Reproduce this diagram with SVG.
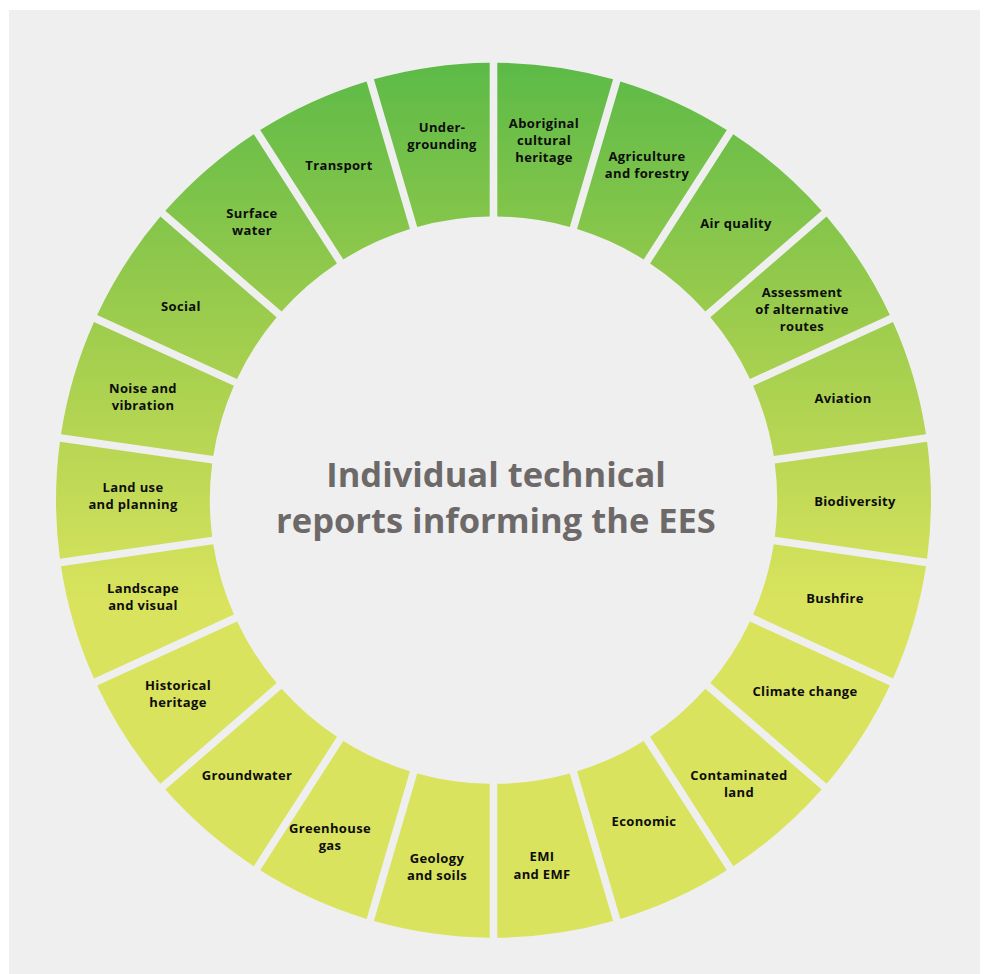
<svg xmlns="http://www.w3.org/2000/svg" width="987" height="974" viewBox="0 0 987 974">
<defs>
<linearGradient id="ring" gradientUnits="userSpaceOnUse" x1="0" y1="-438" x2="0" y2="100">
<stop offset="0" stop-color="#5cba47"/>
<stop offset="0.5" stop-color="#9fcd4d"/>
<stop offset="1" stop-color="#d9e35d"/>
</linearGradient>
<style>
.seg{fill:url(#ring)}
.lbl{font-family:"Open Sans","Liberation Sans",sans-serif;font-weight:700;font-size:13px;letter-spacing:0.35px;fill:#0d0d0d;text-anchor:middle}
.title{font-family:"Open Sans","Liberation Sans",sans-serif;font-weight:700;font-size:34.5px;fill:#6d6969;text-anchor:middle}
</style>
</defs>
<rect x="0" y="0" width="987" height="974" fill="#ffffff"/>
<rect x="9" y="10" width="971" height="964" fill="#efefef"/>
<g id="connectors"></g>
<g id="n-aboriginal"><path class="seg" transform="translate(493.5 500.2)" d="M3.8,-437.48 A437.5,437.5 0 0 1 119.6,-420.83 L76.27,-273.25 A283.7,283.7 0 0 0 3.8,-283.67 Z"/><text class="lbl"><tspan x="544" y="127.5">Aboriginal</tspan><tspan x="544" y="145">cultural</tspan><tspan x="544" y="162">heritage</tspan></text></g>
<g id="n-agriculture"><path class="seg" transform="translate(493.5 500.2)" d="M126.9,-418.69 A437.5,437.5 0 0 1 233.32,-370.08 L150.17,-240.69 A283.7,283.7 0 0 0 83.57,-271.11 Z"/><text class="lbl"><tspan x="647" y="160.5">Agriculture</tspan><tspan x="647" y="177.5">and forestry</tspan></text></g>
<g id="n-airquality"><path class="seg" transform="translate(493.5 500.2)" d="M239.72,-365.98 A437.5,437.5 0 0 1 328.14,-289.36 L211.9,-188.64 A283.7,283.7 0 0 0 156.56,-236.58 Z"/><text class="lbl"><tspan x="736" y="227.5">Air quality</tspan></text></g>
<g id="n-assessment"><path class="seg" transform="translate(493.5 500.2)" d="M333.11,-283.62 A437.5,437.5 0 0 1 396.37,-185.2 L256.46,-121.3 A283.7,283.7 0 0 0 216.87,-182.89 Z"/><text class="lbl"><tspan x="802" y="296.5">Assessment</tspan><tspan x="802" y="313.5">of alternative</tspan><tspan x="802" y="330.5">routes</tspan></text></g>
<g id="n-aviation"><path class="seg" transform="translate(493.5 500.2)" d="M399.52,-178.28 A437.5,437.5 0 0 1 432.49,-66.02 L280.24,-44.13 A283.7,283.7 0 0 0 259.61,-114.39 Z"/><text class="lbl"><tspan x="843" y="402.5">Aviation</tspan></text></g>
<g id="n-biodiversity"><path class="seg" transform="translate(493.5 500.2)" d="M433.57,-58.5 A437.5,437.5 0 0 1 433.57,58.5 L281.33,36.61 A283.7,283.7 0 0 0 281.33,-36.61 Z"/><text class="lbl"><tspan x="855" y="505.5">Biodiversity</tspan></text></g>
<g id="n-bushfire"><path class="seg" transform="translate(493.5 500.2)" d="M432.49,66.02 A437.5,437.5 0 0 1 399.52,178.28 L259.61,114.39 A283.7,283.7 0 0 0 280.24,44.13 Z"/><text class="lbl"><tspan x="835" y="602.5">Bushfire</tspan></text></g>
<g id="n-climate"><path class="seg" transform="translate(493.5 500.2)" d="M396.37,185.2 A437.5,437.5 0 0 1 333.11,283.62 L216.87,182.89 A283.7,283.7 0 0 0 256.46,121.3 Z"/><text class="lbl"><tspan x="805" y="695.5">Climate change</tspan></text></g>
<g id="n-contaminated"><path class="seg" transform="translate(493.5 500.2)" d="M328.14,289.36 A437.5,437.5 0 0 1 239.72,365.98 L156.56,236.58 A283.7,283.7 0 0 0 211.9,188.64 Z"/><text class="lbl"><tspan x="739" y="779.5">Contaminated</tspan><tspan x="739" y="797">land</tspan></text></g>
<g id="n-economic"><path class="seg" transform="translate(493.5 500.2)" d="M233.32,370.08 A437.5,437.5 0 0 1 126.9,418.69 L83.57,271.11 A283.7,283.7 0 0 0 150.17,240.69 Z"/><text class="lbl"><tspan x="644" y="826">Economic</tspan></text></g>
<g id="n-emi"><path class="seg" transform="translate(493.5 500.2)" d="M119.6,420.83 A437.5,437.5 0 0 1 3.8,437.48 L3.8,283.67 A283.7,283.7 0 0 0 76.27,273.25 Z"/><text class="lbl"><tspan x="542" y="861">EMI</tspan><tspan x="542" y="878.5">and EMF</tspan></text></g>
<g id="n-geology"><path class="seg" transform="translate(493.5 500.2)" d="M-3.8,437.48 A437.5,437.5 0 0 1 -119.6,420.83 L-76.27,273.25 A283.7,283.7 0 0 0 -3.8,283.67 Z"/><text class="lbl"><tspan x="437" y="862.5">Geology</tspan><tspan x="437" y="879.5">and soils</tspan></text></g>
<g id="n-greenhouse"><path class="seg" transform="translate(493.5 500.2)" d="M-126.9,418.69 A437.5,437.5 0 0 1 -233.32,370.08 L-150.17,240.69 A283.7,283.7 0 0 0 -83.57,271.11 Z"/><text class="lbl"><tspan x="330" y="832.5">Greenhouse</tspan><tspan x="330" y="849.5">gas</tspan></text></g>
<g id="n-groundwater"><path class="seg" transform="translate(493.5 500.2)" d="M-239.72,365.98 A437.5,437.5 0 0 1 -328.14,289.36 L-211.9,188.64 A283.7,283.7 0 0 0 -156.56,236.58 Z"/><text class="lbl"><tspan x="247" y="779.5">Groundwater</tspan></text></g>
<g id="n-historical"><path class="seg" transform="translate(493.5 500.2)" d="M-333.11,283.62 A437.5,437.5 0 0 1 -396.37,185.2 L-256.46,121.3 A283.7,283.7 0 0 0 -216.87,182.89 Z"/><text class="lbl"><tspan x="178" y="689.5">Historical</tspan><tspan x="178" y="706.5">heritage</tspan></text></g>
<g id="n-landscape"><path class="seg" transform="translate(493.5 500.2)" d="M-399.52,178.28 A437.5,437.5 0 0 1 -432.49,66.02 L-280.24,44.13 A283.7,283.7 0 0 0 -259.61,114.39 Z"/><text class="lbl"><tspan x="143" y="592.5">Landscape</tspan><tspan x="143" y="609.5">and visual</tspan></text></g>
<g id="n-landuse"><path class="seg" transform="translate(493.5 500.2)" d="M-433.57,58.5 A437.5,437.5 0 0 1 -433.57,-58.5 L-281.33,-36.61 A283.7,283.7 0 0 0 -281.33,36.61 Z"/><text class="lbl"><tspan x="133" y="492">Land use</tspan><tspan x="133" y="509">and planning</tspan></text></g>
<g id="n-noise"><path class="seg" transform="translate(493.5 500.2)" d="M-432.49,-66.02 A437.5,437.5 0 0 1 -399.52,-178.28 L-259.61,-114.39 A283.7,283.7 0 0 0 -280.24,-44.13 Z"/><text class="lbl"><tspan x="143" y="392.5">Noise and</tspan><tspan x="143" y="409.5">vibration</tspan></text></g>
<g id="n-social"><path class="seg" transform="translate(493.5 500.2)" d="M-396.37,-185.2 A437.5,437.5 0 0 1 -333.11,-283.62 L-216.87,-182.89 A283.7,283.7 0 0 0 -256.46,-121.3 Z"/><text class="lbl"><tspan x="181" y="310.5">Social</tspan></text></g>
<g id="n-surfacewater"><path class="seg" transform="translate(493.5 500.2)" d="M-328.14,-289.36 A437.5,437.5 0 0 1 -239.72,-365.98 L-156.56,-236.58 A283.7,283.7 0 0 0 -211.9,-188.64 Z"/><text class="lbl"><tspan x="252" y="217.5">Surface</tspan><tspan x="252" y="235">water</tspan></text></g>
<g id="n-transport"><path class="seg" transform="translate(493.5 500.2)" d="M-233.32,-370.08 A437.5,437.5 0 0 1 -126.9,-418.69 L-83.57,-271.11 A283.7,283.7 0 0 0 -150.17,-240.69 Z"/><text class="lbl"><tspan x="339" y="169.5">Transport</tspan></text></g>
<g id="n-undergrounding"><path class="seg" transform="translate(493.5 500.2)" d="M-119.6,-420.83 A437.5,437.5 0 0 1 -3.8,-437.48 L-3.8,-283.67 A283.7,283.7 0 0 0 -76.27,-273.25 Z"/><text class="lbl"><tspan x="442" y="131.5">Under-</tspan><tspan x="442" y="148.5">grounding</tspan></text></g>
<g id="title"><text class="title"><tspan x="496" y="486.5">Individual technical</tspan><tspan x="496" y="532.5">reports informing the EES</tspan></text></g>
</svg>
